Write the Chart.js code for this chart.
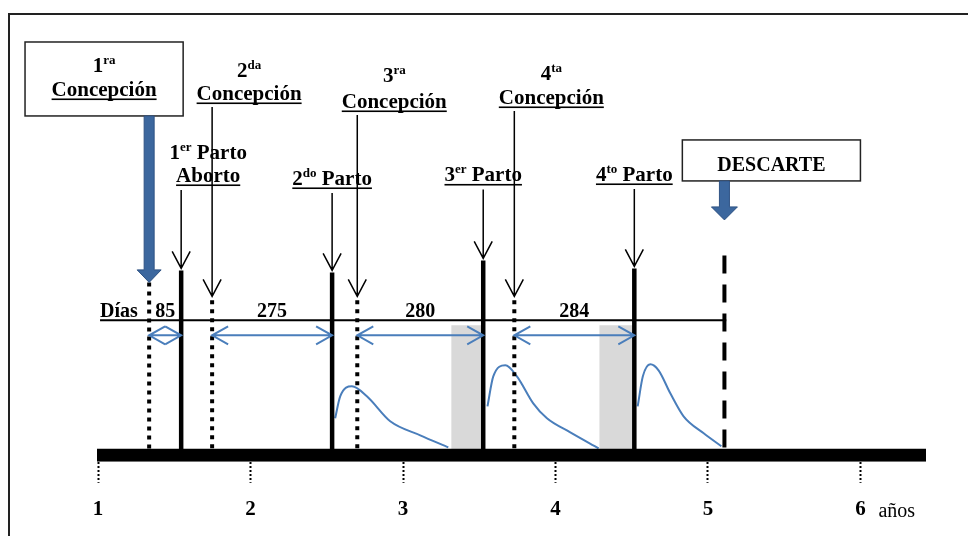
<!DOCTYPE html>
<html>
<head>
<meta charset="utf-8">
<script src="https://cdn.jsdelivr.net/npm/chart.js@4.4.0/dist/chart.umd.min.js"></script>
<style>
  html, body { margin: 0; padding: 0; background: #fff; }
</style>
</head>
<body>
<canvas id="ciclo" width="968" height="536"></canvas>
<script>
// eje en años
const YEARS = [1, 2, 3, 4, 5, 6];
const AXIS_START = 0.993, AXIS_END = 6.43;

// eventos (x en años, alto de la línea en unidades del eje y)
const CONCEPCION_X = [1.335, 1.748, 2.700, 3.730];
const CONCEPCION_TOP = [173, 155, 155, 155];
const PARTO_X = [1.545, 2.535, 3.526, 4.517];
const PARTO_TOP = [185, 183, 195, 187];
const DIAS = [85, 275, 280, 284];
const DIAS_Y = 135;
const DESCARTE_X = 5.108;
const DESCARTE_TOP = 200;

// periodos secos (gris)
const SECA_START = [3.316, 4.287];
const SECA_END = [3.513, 4.504];
const SECA_TOP = 130;

// curvas de lactancia
const LACT_1 = [[2.555, 37], [2.588, 59], [2.665, 69], [2.763, 59], [2.916, 34], [3.113, 20], [3.297, 8]];
const LACT_2 = [[3.554, 49], [3.592, 79], [3.671, 90], [3.747, 79], [3.854, 52], [3.944, 37], [4.097, 23], [4.283, 7]];
const LACT_3 = [[4.539, 49], [4.573, 79], [4.622, 91], [4.676, 85], [4.753, 62], [4.840, 39], [4.972, 22], [5.088, 9]];

const CONC_SUP = ['ra', 'da', 'ra', 'ta'];
const PARTO_SUP = ['er', 'do', 'er', 'to'];

const SERIF = '"Liberation Serif", "Times New Roman", serif';
const BLUE = '#4a7ebb';
const BLUE_DARK = '#3c679e';

let datasets = [];
function addLine(pts, opts) {
    datasets.push(Object.assign({
        data: pts.map(p => ({ x: p[0], y: p[1] })),
        showLine: true, pointRadius: 0, borderColor: '#000', borderWidth: 2,
        fill: false, tension: 0, borderCapStyle: 'butt'
    }, opts));
}

SECA_START.forEach((s, i) => addLine([[s, SECA_TOP], [SECA_END[i], SECA_TOP]],
    { borderWidth: 0, borderColor: 'rgba(0,0,0,0)', fill: 'origin', backgroundColor: '#d9d9d9', order: 20 }));

[LACT_1, LACT_2, LACT_3].forEach(l => addLine(l,
    { borderColor: BLUE, borderWidth: 2, cubicInterpolationMode: 'monotone', order: 15 }));

addLine([[AXIS_START + 0.02, DIAS_Y], [DESCARTE_X + 0.012, DIAS_Y]], { borderWidth: 2, order: 6 });

CONCEPCION_X.forEach((x, i) => addLine([[x, CONCEPCION_TOP[i]], [x, 0]],
    { borderWidth: 4, borderDash: [4, 5], order: 4 }));

PARTO_X.forEach((x, i) => addLine([[x, PARTO_TOP[i]], [x, 0]], { borderWidth: 4.5, order: 3 }));

addLine([[DESCARTE_X, DESCARTE_TOP], [DESCARTE_X, 0]], { borderWidth: 4, borderDash: [18, 11], order: 4 });

addLine([[AXIS_START, 0], [AXIS_END, 0]], { borderWidth: 13, order: 1 });

// texto con superíndice, centrado en cx
function supText(ctx, parts, cx, by, underline, size) {
    size = size || 21;
    const big = 'bold ' + size + 'px ' + SERIF, small = 'bold 13px ' + SERIF;
    let w = 0;
    parts.forEach(([t, s]) => { ctx.font = s ? small : big; w += ctx.measureText(t).width; });
    let x = cx - w / 2;
    ctx.textAlign = 'left';
    ctx.textBaseline = 'alphabetic';
    ctx.fillStyle = '#000';
    parts.forEach(([t, s]) => {
        ctx.font = s ? small : big;
        ctx.fillText(t, x, s ? by - 8 : by);
        x += ctx.measureText(t).width;
    });
    if (underline) ctx.fillRect(cx - w / 2, by + 2.5, w, 1.6);
}

function downArrow(ctx, x, y1, y2) {
    ctx.strokeStyle = '#000';
    ctx.lineWidth = 1.5;
    ctx.beginPath();
    ctx.moveTo(x, y1); ctx.lineTo(x, y2);
    ctx.moveTo(x - 9, y2 - 17); ctx.lineTo(x, y2); ctx.lineTo(x + 9, y2 - 17);
    ctx.stroke();
}

function doubleArrow(ctx, x1, x2, y) {
    ctx.strokeStyle = BLUE;
    ctx.lineWidth = 2;
    ctx.beginPath();
    ctx.moveTo(x1, y); ctx.lineTo(x2, y);
    ctx.moveTo(x1 + 16, y - 9); ctx.lineTo(x1, y); ctx.lineTo(x1 + 16, y + 9);
    ctx.moveTo(x2 - 16, y - 9); ctx.lineTo(x2, y); ctx.lineTo(x2 - 16, y + 9);
    ctx.stroke();
}

function blockArrow(ctx, x, yTop, yHead, yTip, shaftW, headW) {
    ctx.fillStyle = BLUE_DARK;
    ctx.strokeStyle = '#2f5384';
    ctx.lineWidth = 1;
    ctx.beginPath();
    ctx.moveTo(x - shaftW / 2, yTop);
    ctx.lineTo(x + shaftW / 2, yTop);
    ctx.lineTo(x + shaftW / 2, yHead);
    ctx.lineTo(x + headW / 2, yHead);
    ctx.lineTo(x, yTip);
    ctx.lineTo(x - headW / 2, yHead);
    ctx.lineTo(x - shaftW / 2, yHead);
    ctx.closePath();
    ctx.fill();
    ctx.stroke();
}

const annotations = {
    id: 'annotations',
    beforeDraw(chart) {
        const ctx = chart.ctx;
        ctx.save();
        ctx.fillStyle = '#fff';
        ctx.fillRect(0, 0, chart.width, chart.height);
        ctx.strokeStyle = '#222';
        ctx.lineWidth = 2;
        ctx.strokeRect(9, 14, chart.width + 20, chart.height + 20);
        ctx.restore();
    },
    afterDatasetsDraw(chart) {
        const ctx = chart.ctx, xs = chart.scales.x, ys = chart.scales.y;
        const X = v => xs.getPixelForValue(v), Y = v => ys.getPixelForValue(v);
        ctx.save();

        // cuadro 1ra concepción
        const bx1 = X(0.521), bx2 = X(1.558), by1 = Y(413.5), by2 = Y(339.5);
        ctx.strokeStyle = '#222'; ctx.lineWidth = 1.5;
        ctx.fillStyle = '#fff';
        ctx.fillRect(bx1, by1, bx2 - bx1, by2 - by1);
        ctx.strokeRect(bx1, by1, bx2 - bx1, by2 - by1);
        blockArrow(ctx, X(CONCEPCION_X[0]), by2, Y(185.5), Y(CONCEPCION_TOP[0]), 10, 24);

        // cuadro descarte
        const dx1 = X(4.832), dx2 = X(6.0), dy1 = Y(315.5), dy2 = Y(274.5);
        ctx.strokeStyle = '#222'; ctx.lineWidth = 1.5;
        ctx.fillStyle = '#fff';
        ctx.fillRect(dx1, dy1, dx2 - dx1, dy2 - dy1);
        ctx.strokeRect(dx1, dy1, dx2 - dx1, dy2 - dy1);
        supText(ctx, [['DESCARTE', false]], (dx1 + dx2) / 2, Y(284), false, 20);
        blockArrow(ctx, X(DESCARTE_X), dy2, Y(248.5), Y(235.5), 10, 26);

        // concepciones
        const concSupY = [383.5, 378.5, 373.5, 375.5];
        const concY = [359.5, 355.5, 347.5, 351.5];
        CONCEPCION_X.forEach((x, i) => {
            const cx = i === 0 ? (bx1 + bx2) / 2 : X(x) + 37;
            supText(ctx, [[String(i + 1), false], [CONC_SUP[i], true]], cx, Y(concSupY[i]), false);
            supText(ctx, [['Concepción', false]], cx, Y(concY[i]), true);
            if (i > 0) downArrow(ctx, X(x), Y(concY[i] - 7), Y(CONCEPCION_TOP[i] + 4));
        });

        // partos
        const partoY = [273.5, 270.5, 274, 274.5];
        PARTO_X.forEach((x, i) => {
            const cx = i === 0 ? X(x) + 27 : X(x);
            const parts = [[String(i + 1), false], [PARTO_SUP[i], true], [' Parto', false]];
            if (i === 0) {
                supText(ctx, parts, cx, Y(296.5), false);
                supText(ctx, [['Aborto', false]], cx, Y(273.5), true);
            } else {
                supText(ctx, parts, cx, Y(partoY[i]), true);
            }
            downArrow(ctx, X(x), Y(partoY[i] - 8), Y(PARTO_TOP[i] + 2));
        });

        // días
        ctx.fillStyle = '#000';
        ctx.font = 'bold 20px ' + SERIF;
        ctx.textAlign = 'left';
        ctx.fillText('Días', X(AXIS_START + 0.02), Y(DIAS_Y + 3));
        DIAS.forEach((d, i) => {
            const x1 = X(CONCEPCION_X[i]), x2 = X(PARTO_X[i]);
            supText(ctx, [[String(d), false]], (x1 + x2) / 2, Y(DIAS_Y + 3), false, 20);
            doubleArrow(ctx, x1, x2, Y(120));
        });

        // unidad del eje
        ctx.fillStyle = '#000';
        ctx.font = '20px ' + SERIF;
        ctx.textAlign = 'left';
        ctx.textBaseline = 'alphabetic';
        ctx.fillText('años', X(6) + 18, Y(-61.5));
        ctx.restore();
    }
};

new Chart(document.getElementById('ciclo'), {
    type: 'scatter',
    data: { datasets: datasets },
    options: {
        responsive: false,
        animation: false,
        devicePixelRatio: 1,
        layout: { padding: { left: 97, right: 42, top: 30, bottom: 0 } },
        plugins: { legend: { display: false }, tooltip: { enabled: false } },
        scales: {
            x: {
                type: 'linear', min: AXIS_START, max: AXIS_END,
                afterBuildTicks: s => { s.ticks = YEARS.map(v => ({ value: v })); },
                grid: { drawOnChartArea: false, tickLength: 21, tickColor: '#000', tickWidth: 2, tickBorderDash: [2, 2] },
                border: { display: false },
                ticks: { color: '#000', padding: 14, maxRotation: 0, autoSkip: false,
                    font: { family: SERIF, size: 21, weight: 'bold' },
                    callback: v => String(v) }
            },
            y: { display: false, min: -6.5, max: 425.5 }
        }
    },
    plugins: [annotations]
});
</script>
</body>
</html>
